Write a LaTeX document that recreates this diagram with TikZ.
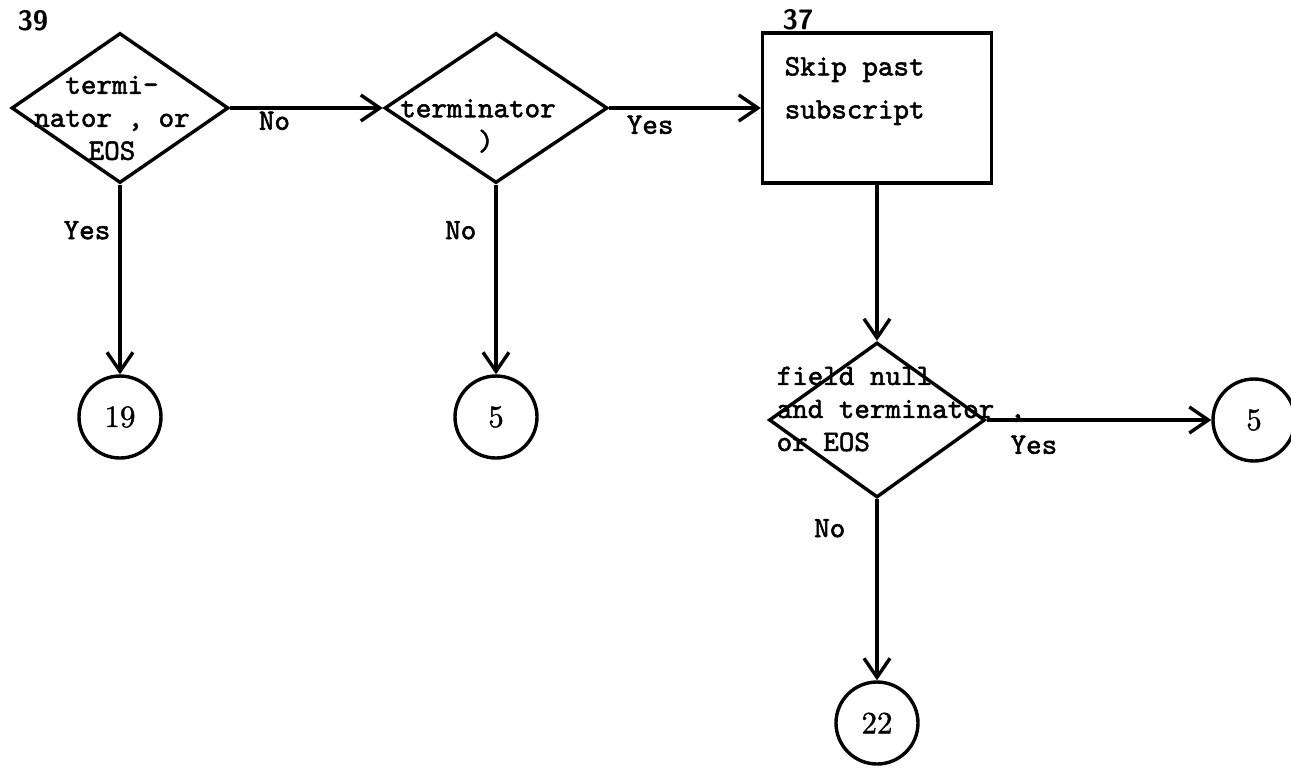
\documentclass[tikz,border=0pt]{standalone}
\usepackage{fontspec}
\newfontfamily\typer[FakeBold=1.8]{lmmono10-regular.otf}
\newfontfamily\numfont[FakeBold=1.2]{lmroman10-regular.otf}
\usetikzlibrary{shapes.geometric,arrows.meta}

\begin{document}
\begin{tikzpicture}[
    x=0.5pt, y=-0.5pt,
    line width=1.7pt,
    every node/.style={font=\typer\fontsize{14.8}{16.5}\selectfont, inner sep=0pt},
    decision/.style={draw, diamond, minimum width=108pt, minimum height=75pt},
    process/.style={draw, rectangle, minimum width=114.5pt, minimum height=75pt},
    connector/.style={draw, circle, minimum size=41pt, font=\numfont\fontsize{15.5}{18}\selectfont},
    blocknum/.style={font=\sffamily\bfseries\fontsize{14}{16}\selectfont},
    flow/.style={-{Straight Barb[length=9.5pt,width=13pt]}},
    edge label/.style={inner sep=1pt}
]
\useasboundingbox (0,0) rectangle (1291,767);

\node[blocknum] (n39) at (33,21) {39};
\node[decision, minimum width=108.5pt] (d39) at (120,108) {};
\node[align=center] (d39txt) at (112,118) {termi-\\nator , or\\EOS};

\node[decision, minimum width=111.5pt] (d2) at (496,108) {};
\node[align=center] (d2txt) at (478,126) {terminator\\\hphantom{0})};

\node[blocknum] (n37) at (798,20) {37};
\node[process] (skip) at (877,108) {};
\node[align=left, anchor=west] (skiptxt) at (783,91) {Skip past\\[5pt]subscript};

\node[decision, minimum height=77.5pt] (d3) at (877,420) {};
\node[align=left, anchor=west] (d3txt) at (775,409) {field null\\and terminator ,\\or EOS};

\node[connector] (c19) at (120,417) {19};
\node[connector] (c5a) at (496,417) {5};
\node[connector] (c5b) at (1254,420) {5};
\node[connector] (c22) at (877,723) {22};

\draw[flow] (d39.east) -- node[below=0pt, pos=.29, edge label] (lno1) {No} (d2.west);
\draw[flow] (d39.south) -- node[left=3pt, pos=.24, edge label] (lyes1) {Yes} (c19.north);
\draw[flow] (d2.east) -- node[below=2pt, pos=.27, edge label] (lyes2) {Yes} (skip.west);
\draw[flow] (d2.south) -- node[left=8pt, pos=.24, edge label] (lno2) {No} (c5a.north);
\draw[flow] (skip.south) -- (d3.north);
\draw[flow] (d3.east) -- node[below=6pt, pos=.21, edge label] (lyes3) {Yes} (c5b.west);
\draw[flow] (d3.south) -- node[left=14pt, pos=.16, edge label] (lno3) {No} (c22.north);
\end{tikzpicture}
\end{document}
